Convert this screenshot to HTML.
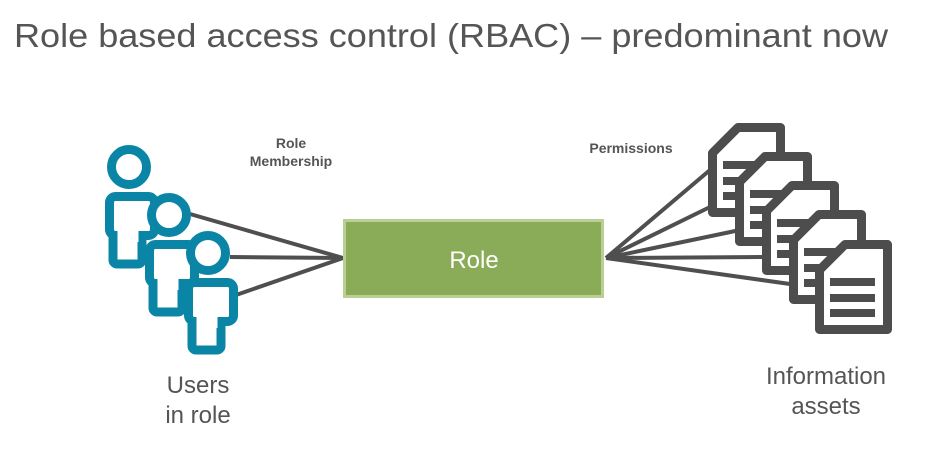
<!DOCTYPE html>
<html><head><meta charset="utf-8"><style>
html,body{margin:0;padding:0;background:#fff;}
svg{display:block;}
text{font-family:"Liberation Sans",sans-serif;}
</style></head><body>
<svg width="926" height="461" viewBox="0 0 926 461" xmlns="http://www.w3.org/2000/svg">
<defs>
  <g id="person">
    <rect x="113" y="234" width="29" height="30" rx="4" fill="#fff" stroke="#0b85a6" stroke-width="9"/>
    <rect x="109.5" y="196.5" width="45" height="39" rx="6" fill="#fff" stroke="#0b85a6" stroke-width="9"/>
    <rect x="117.5" y="230" width="21" height="12" fill="#fff"/>
    <circle cx="129" cy="167" r="17.5" fill="#fff" stroke="#0b85a6" stroke-width="9"/>
  </g>
  <g id="doc">
    <path d="M738,127.5 L780.5,127.5 L780.5,212.5 L712.5,212.5 L712.5,153 Z" fill="#fff" stroke="#4d4d4d" stroke-width="9" stroke-linejoin="round"/>
    <rect x="723" y="161" width="45" height="8" fill="#4d4d4d"/>
    <rect x="723" y="177" width="45" height="8" fill="#4d4d4d"/>
    <rect x="723" y="192" width="45" height="8" fill="#4d4d4d"/>
  </g>
</defs>
<text x="14" y="47" font-size="33" fill="#555" textLength="874" lengthAdjust="spacingAndGlyphs">Role based access control (RBAC) – predominant now</text>

<g stroke="#4f4f4f" stroke-width="4" fill="none">
  <line x1="343" y1="258" x2="190" y2="214"/>
  <line x1="343" y1="258" x2="230" y2="257"/>
  <line x1="343" y1="258" x2="236" y2="295"/>
  <line x1="606" y1="258" x2="710" y2="170"/>
  <line x1="606" y1="258" x2="710" y2="207"/>
  <line x1="606" y1="258" x2="740" y2="230"/>
  <line x1="606" y1="258" x2="765" y2="257"/>
  <line x1="606" y1="258" x2="790" y2="284"/>
</g>

<use href="#person"/>
<use href="#person" transform="translate(40,48)"/>
<use href="#person" transform="translate(79,86)"/>

<use href="#doc"/>
<use href="#doc" transform="translate(27,29)"/>
<use href="#doc" transform="translate(54,58)"/>
<use href="#doc" transform="translate(81,87)"/>
<use href="#doc" transform="translate(107,117)"/>

<rect x="344.5" y="220.5" width="258" height="76" fill="#8aab58" stroke="#b9cf93" stroke-width="3"/>
<text x="474" y="268" font-size="24" fill="#fff" text-anchor="middle">Role</text>

<text x="291" y="148" font-size="14" font-weight="bold" fill="#555" text-anchor="middle">Role</text>
<text x="291" y="166" font-size="14" font-weight="bold" fill="#555" text-anchor="middle">Membership</text>
<text x="631" y="153" font-size="14" font-weight="bold" fill="#555" text-anchor="middle">Permissions</text>

<text x="198" y="393" font-size="24" fill="#555" text-anchor="middle">Users</text>
<text x="198" y="423" font-size="24" fill="#555" text-anchor="middle">in role</text>
<text x="826" y="384" font-size="24" fill="#555" text-anchor="middle">Information</text>
<text x="826" y="414" font-size="24" fill="#555" text-anchor="middle">assets</text>
</svg>
</body></html>
